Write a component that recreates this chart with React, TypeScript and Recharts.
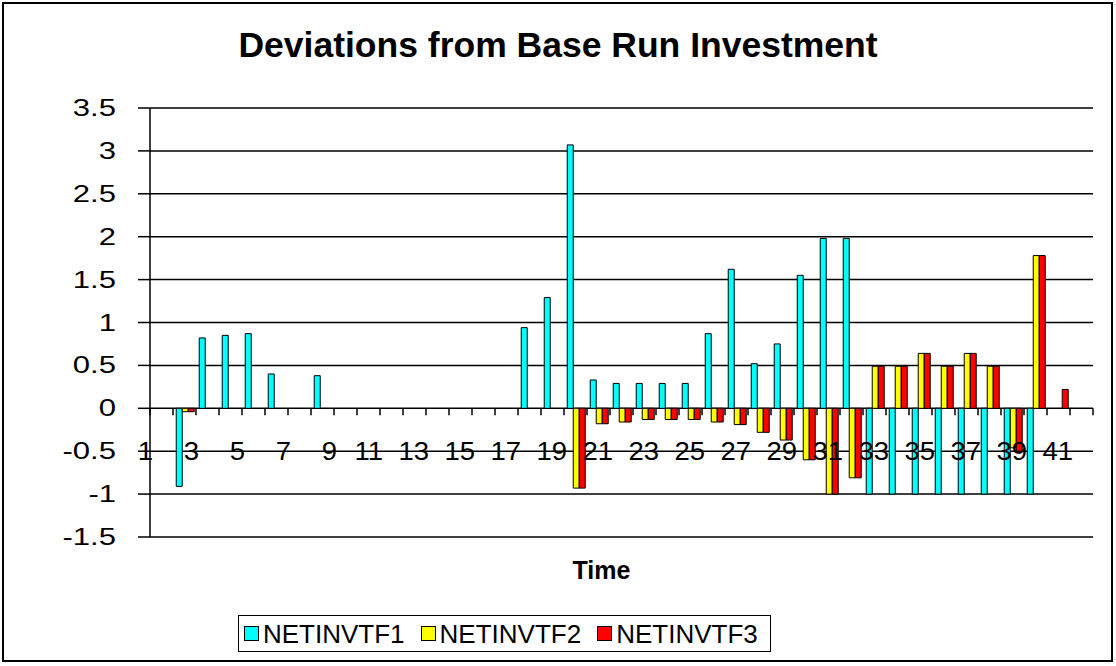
import React from 'react';
import { BarChart, Bar, XAxis, YAxis, CartesianGrid, Legend } from 'recharts';

const categories = ['1','2','3','4','5','6','7','8','9','10','11','12','13','14','15','16','17','18','19','20','21','22','23','24','25','26','27','28','29','30','31','32','33','34','35','36','37','38','39','40','41'];

const netinvtf1 = [0, -0.91, 0.82, 0.85, 0.87, 0.40, 0, 0.38, 0, 0, 0, 0, 0, 0, 0, 0, 0.94, 1.29, 3.07, 0.33, 0.29, 0.29, 0.29, 0.29, 0.87, 1.62, 0.52, 0.75, 1.55, 1.98, 1.98, -1, -1, -1, -1, -1, -1, -1, -1, 0, 0];
const netinvtf2 = [0, -0.04, 0, 0, 0, 0, 0, 0, 0, 0, 0, 0, 0, 0, 0, 0, 0, 0, -0.93, -0.18, -0.16, -0.13, -0.13, -0.13, -0.16, -0.19, -0.28, -0.37, -0.60, -1.0, -0.81, 0.49, 0.49, 0.64, 0.49, 0.64, 0.49, -0.46, 1.78, 0, 0];
const netinvtf3 = [0, -0.04, 0, 0, 0, 0, 0, 0, 0, 0, 0, 0, 0, 0, 0, 0, 0, 0, -0.93, -0.18, -0.16, -0.13, -0.13, -0.13, -0.16, -0.19, -0.28, -0.37, -0.60, -1.0, -0.81, 0.49, 0.49, 0.64, 0.49, 0.64, 0.49, -0.50, 1.78, 0.22, 0];

const yTicks = [-1.5, -1, -0.5, 0, 0.5, 1, 1.5, 2, 2.5, 3, 3.5];
const seriesNames = ['NETINVTF1', 'NETINVTF2', 'NETINVTF3'];
const seriesColors = ['#00FFFF', '#FFFF00', '#FF0000'];
const seriesValues = [netinvtf1, netinvtf2, netinvtf3];

const data = categories.map((t, i) => {
  const row: any = { time: t };
  seriesNames.forEach((n, s) => { row[n] = seriesValues[s][i]; });
  return row;
});

const FONT = '"Liberation Sans", Arial, Helvetica, sans-serif';
const W = 1116;
const H = 666;
const MARGIN = { top: 108, right: 23, bottom: 69, left: 0 };
const Y_AXIS_W = 150;
const X_AXIS_H = 60;
const Y_MIN = -1.5;
const Y_MAX = 3.5;
const PLOT_H = H - MARGIN.top - MARGIN.bottom - X_AXIS_H;
const PLOT_W = W - MARGIN.left - MARGIN.right - Y_AXIS_W;
const ZERO_Y = MARGIN.top + (PLOT_H * (Y_MAX - 0)) / (Y_MAX - Y_MIN);

const XTick = (props: any) => {
  const { x, payload, index } = props;
  const half = payload && typeof payload.offset === 'number' && payload.offset > 0 ? payload.offset : PLOT_W / categories.length / 2;
  const left = x - half;
  const isLast = index === categories.length - 1;
  const showLabel = Number(payload.value) % 2 === 1;
  return (
    <g>
      <line x1={left} y1={ZERO_Y} x2={left} y2={ZERO_Y + 7} stroke="#000" strokeWidth={1.5} />
      {isLast && <line x1={x + half} y1={ZERO_Y} x2={x + half} y2={ZERO_Y + 7} stroke="#000" strokeWidth={1.5} />}
      {showLabel && (
        <text
          transform={`translate(${x - 8.5},${ZERO_Y + 52}) scale(1.1,1)`}
          textAnchor="end"
          fontSize={25}
          fontFamily={FONT}
          fill="#000"
        >
          {payload.value}
        </text>
      )}
    </g>
  );
};

const YTick = (props: any) => {
  const { x, y, payload } = props;
  return (
    <text
      transform={`translate(${x},${y + 8}) scale(1.35,1)`}
      textAnchor="end"
      fontSize={23}
      fontFamily={FONT}
      fill="#000"
    >
      {payload.value}
    </text>
  );
};

const LegendContent = (props: any) => {
  const payload = props.payload || [];
  return (
    <div
      style={{
        border: '1.5px solid #000',
        display: 'flex',
        alignItems: 'center',
        height: 37,
        boxSizing: 'border-box',
        padding: '0 5px',
        background: '#fff',
        fontFamily: FONT,
        whiteSpace: 'nowrap',
        overflow: 'hidden',
      }}
    >
      {payload.map((p: any, i: number) => (
        <span key={i} style={{ display: 'flex', alignItems: 'center', marginRight: i < payload.length - 1 ? 16 : 0 }}>
          <span
            style={{
              display: 'inline-block',
              width: 13,
              height: 13,
              background: p.color,
              border: '1.5px solid #000',
              marginRight: 4,
            }}
          />
          <span style={{ fontSize: 26, color: '#000', lineHeight: 1 }}>{p.value}</span>
        </span>
      ))}
    </div>
  );
};

export default function App() {
  return (
    <div style={{ position: 'absolute', left: 0, top: 0, width: W, height: H, background: '#fff', fontFamily: FONT }}>
      <div
        style={{
          position: 'absolute',
          left: 0,
          top: 25,
          width: W,
          textAlign: 'center',
          fontWeight: 'bold',
          fontSize: 35.5,
          color: '#000',
          fontFamily: FONT,
        }}
      >
        Deviations from Base Run Investment
      </div>
      <BarChart
        width={W}
        height={H}
        data={data}
        margin={MARGIN}
        barCategoryGap="14%"
        barGap={0}
      >
        <CartesianGrid vertical={false} stroke="#000" strokeWidth={1.5} strokeDasharray="" />
        <XAxis
          dataKey="time"
          interval={0}
          height={X_AXIS_H}
          axisLine={false}
          tickLine={false}
          tick={<XTick />}
          label={{
            value: 'Time',
            position: 'insideTop',
            offset: 24,
            dx: -20,
            style: { fontWeight: 'bold', fontSize: 25, fill: '#000', fontFamily: FONT },
          }}
        />
        <YAxis
          width={Y_AXIS_W}
          domain={[Y_MIN, Y_MAX]}
          ticks={yTicks}
          interval={0}
          allowDataOverflow
          tickSize={12}
          tickMargin={22}
          axisLine={{ stroke: '#000', strokeWidth: 1.5 }}
          tickLine={{ stroke: '#000', strokeWidth: 1.5 }}
          tick={<YTick />}
        />
        <Legend
          verticalAlign="middle"
          layout="horizontal"
          wrapperStyle={{ left: 238, top: 615, width: 533, height: 37 }}
          content={<LegendContent />}
        />
        {seriesNames.map((n, s) => (
          <Bar
            key={n}
            dataKey={n}
            name={n}
            fill={seriesColors[s]}
            stroke="#000"
            strokeWidth={1}
            isAnimationActive={false}
          />
        ))}
      </BarChart>
      <div
        style={{
          position: 'absolute',
          left: 2,
          top: 2,
          width: 1111,
          height: 660,
          border: '2px solid #000',
          boxSizing: 'border-box',
          pointerEvents: 'none',
        }}
      />
    </div>
  );
}
